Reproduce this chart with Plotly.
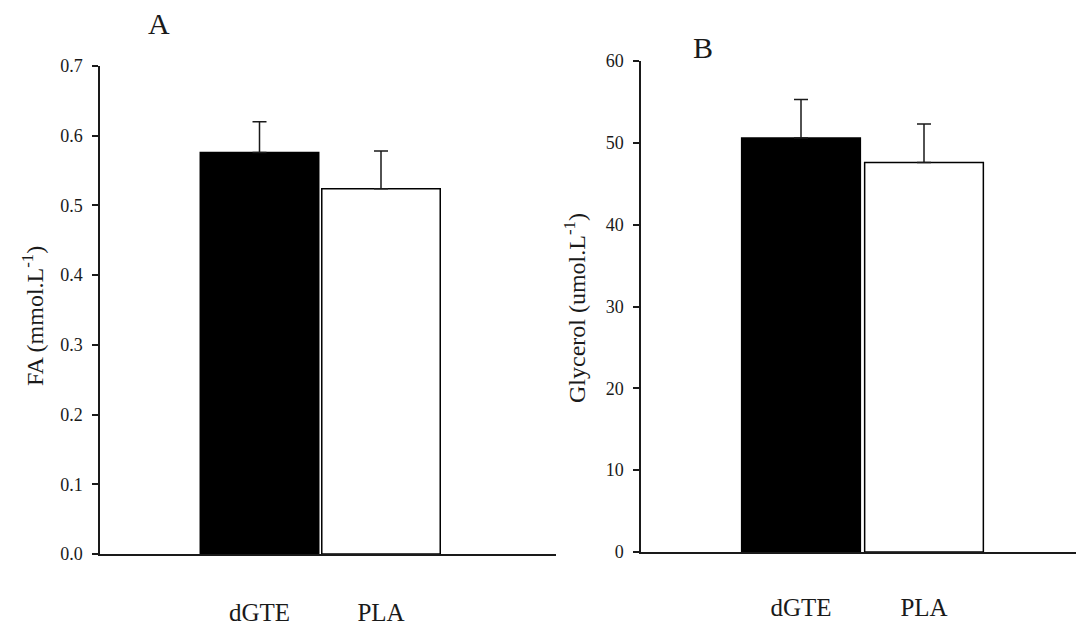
import plotly.graph_objects as go

# ---- data ----
categories = ["dGTE", "PLA"]
fa_values = [0.576, 0.524]
fa_errors = [0.044, 0.054]
glycerol_values = [50.6, 47.6]
glycerol_errors = [4.7, 4.7]
fa_ticks = [0.0, 0.1, 0.2, 0.3, 0.4, 0.5, 0.6, 0.7]
glycerol_ticks = [0, 10, 20, 30, 40, 50, 60]
fa_title = "FA (mmol.L<sup>-1</sup>)"
glycerol_title = "Glycerol (umol.L<sup>-1</sup>)"

FONT = "Liberation Serif"
INK = "#1a1a1a"
fills = ["black", "white"]
positions = list(range(len(categories)))

# page body has an 8px margin; the figure is sized to fill the rest of the window
OFF = 8
W, H = 1084 - OFF, 625 - OFF


def px(x):
    return (x - OFF) / W


def py(y):
    return 1 - (y - OFF) / H


fig = go.Figure()

for i, cat in enumerate(categories):
    fig.add_trace(go.Bar(
        x=[positions[i]], y=[fa_values[i]], width=0.975,
        marker=dict(color=fills[i], line=dict(color="black", width=1.5)),
        error_y=dict(type="data", symmetric=False, array=[fa_errors[i]], arrayminus=[0],
                     color=INK, thickness=1.5, width=7),
        xaxis="x", yaxis="y", showlegend=False, name=cat))
    fig.add_trace(go.Bar(
        x=[positions[i]], y=[glycerol_values[i]], width=0.965,
        marker=dict(color=fills[i], line=dict(color="black", width=1.5)),
        error_y=dict(type="data", symmetric=False, array=[glycerol_errors[i]], arrayminus=[0],
                     color=INK, thickness=1.5, width=7),
        xaxis="x2", yaxis="y2", showlegend=False, name=cat))

axis_font = dict(family=FONT, size=18, color=INK)
cat_font = dict(family=FONT, size=25, color=INK)
title_font = dict(family=FONT, size=24, color=INK)

A_range = [-1.3128, 2.4403]
B_range = [-1.3008, 2.3008]

fig.update_layout(
    width=W, height=H,
    margin=dict(l=0, r=0, t=0, b=0, autoexpand=False),
    paper_bgcolor="white", plot_bgcolor="white",
    barmode="overlay",
    font=dict(family=FONT, color=INK),
    xaxis=dict(domain=[px(100), px(556)], range=A_range, anchor="y", automargin=False,
               showline=True, linecolor=INK, linewidth=1.5, showgrid=False, zeroline=False,
               tickvals=positions, ticktext=categories, ticks="", tickfont=cat_font,
               ticklabelstandoff=35),
    xaxis3=dict(overlaying="x", anchor="y", range=A_range, side="bottom", automargin=False,
                showline=False, showgrid=False, zeroline=False,
                tickvals=[A_range[0], 1.4856], ticks="outside", ticklen=6, tickwidth=1.5,
                tickcolor=INK, showticklabels=False),
    yaxis=dict(domain=[py(554), py(66)], range=[0, 0.7], anchor="x", automargin=False,
               showline=True, linecolor=INK, linewidth=1.5, showgrid=False, zeroline=False,
               tickvals=fa_ticks, tickformat=".1f", ticks="outside", ticklen=6, tickwidth=1.5,
               tickcolor=INK, tickfont=axis_font, ticklabelstandoff=6),
    xaxis2=dict(domain=[px(641), 1.0], range=B_range, anchor="y2", automargin=False,
                showline=True, linecolor=INK, linewidth=1.5, showgrid=False, zeroline=False,
                tickvals=positions, ticktext=categories, ticks="", tickfont=cat_font,
                ticklabelstandoff=32),
    yaxis2=dict(domain=[py(552), py(61)], range=[0, 60], anchor="x2", automargin=False,
                showline=True, linecolor=INK, linewidth=1.5, showgrid=False, zeroline=False,
                tickvals=glycerol_ticks, ticks="outside", ticklen=6, tickwidth=1.5,
                tickcolor=INK, tickfont=axis_font, ticklabelstandoff=6),
    annotations=[
        dict(text="A", x=px(159), y=py(23), xref="paper", yref="paper", showarrow=False,
             xanchor="center", yanchor="middle", font=dict(family=FONT, size=30, color=INK)),
        dict(text="B", x=px(703), y=py(47), xref="paper", yref="paper", showarrow=False,
             xanchor="center", yanchor="middle", font=dict(family=FONT, size=30, color=INK)),
        dict(text=fa_title, x=px(33), y=py(316), xref="paper", yref="paper", showarrow=False,
             textangle=-90, xanchor="center", yanchor="middle", font=title_font),
        dict(text=glycerol_title, x=px(575), y=py(308), xref="paper", yref="paper", showarrow=False,
             textangle=-90, xanchor="center", yanchor="middle", font=title_font),
    ],
)

fig.write_html("out.html")
